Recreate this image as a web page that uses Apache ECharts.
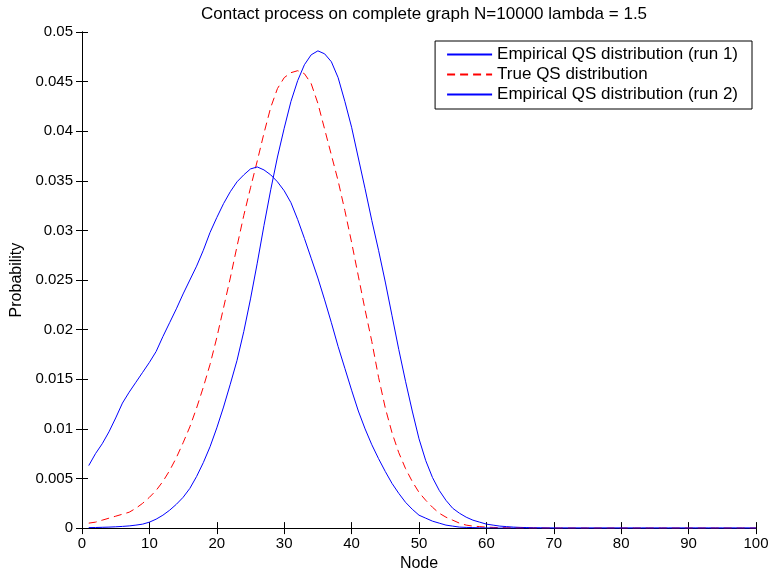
<!DOCTYPE html>
<html><head><meta charset="utf-8">
<script src="https://cdn.jsdelivr.net/npm/echarts@6/dist/echarts.min.js"></script>
<style>html,body{margin:0;padding:0;background:#fff}#c{width:773px;height:577px}</style>
</head><body><div id="c"></div>
<script>
const titleText = 'Contact process on complete graph N=10000 lambda = 1.5';
const seriesNames = ['Empirical QS distribution (run 1)', 'True QS distribution', 'Empirical QS distribution (run 2)'];
const xTicks = [0,10,20,30,40,50,60,70,80,90,100];
const yTicks = [0,0.005,0.01,0.015,0.02,0.025,0.03,0.035,0.04,0.045,0.05];

// values for node 1..100
const run1 = [
0.00005,0.00006,0.00008,0.0001,0.00013,0.00017,0.00022,0.0003,0.0004,0.0006,
0.0009,0.0013,0.0018,0.0024,0.0031,0.0040,0.0052,0.0066,0.0082,0.0101,
0.0122,0.0145,0.0169,0.0198,0.0231,0.0267,0.0305,0.0341,0.0374,0.0403,
0.0430,0.0451,0.0467,0.0477,0.0481,0.0478,0.0470,0.0454,0.0430,0.0404,
0.0373,0.0342,0.0310,0.0280,0.0248,0.0214,0.0180,0.0148,0.0118,0.0090,
0.0068,0.0051,0.0038,0.0028,0.0020,0.0015,0.0011,0.0008,0.0006,0.0004,
0.0003,0.0002,0.00015,0.0001,0.00007,0.00005,0.00003,0.00002,0.00001,0,
0,0,0,0,0,0,0,0,0,0,
0,0,0,0,0,0,0,0,0,0,
0,0,0,0,0,0,0,0,0,0];

const trueQS = [
0.0005,0.0006,0.0008,0.0010,0.0012,0.0014,0.0016,0.0020,0.0025,0.0031,
0.0038,0.0047,0.0058,0.0071,0.0086,0.0102,0.0121,0.0142,0.0165,0.0192,
0.0222,0.0252,0.0284,0.0315,0.0343,0.0370,0.0398,0.0424,0.0443,0.0454,
0.0459,0.0461,0.0458,0.0448,0.0428,0.0402,0.0376,0.0350,0.0320,0.0288,
0.0254,0.0220,0.0188,0.0152,0.0121,0.0096,0.0076,0.0060,0.0047,0.0036,
0.0028,0.0021,0.0015,0.0011,0.0008,0.0005,0.0003,0.0002,0.00015,0.0001,
0.00007,0.00005,0.00003,0.00002,0.00001,0,0,0,0,0,
0,0,0,0,0,0,0,0,0,0,
0,0,0,0,0,0,0,0,0,0,
0,0,0,0,0,0,0,0,0,0];

const run2 = [
0.0063,0.0075,0.0085,0.0097,0.0111,0.0126,0.0137,0.0147,0.0157,0.0167,
0.0178,0.0193,0.0207,0.0221,0.0236,0.0250,0.0264,0.0280,0.0298,0.0313,
0.0327,0.0339,0.0349,0.0356,0.0362,0.0364,0.0361,0.0356,0.0349,0.0340,
0.0328,0.0311,0.0292,0.0272,0.0252,0.0230,0.0207,0.0183,0.0161,0.0139,
0.0118,0.0100,0.0084,0.0070,0.0057,0.0045,0.0035,0.0026,0.0019,0.0013,
0.0010,0.0007,0.0005,0.0003,0.0002,0.0001,0.00007,0.00005,0.00003,0.00002,
0.00001,0,0,0,0,0,0,0,0,0,
0,0,0,0,0,0,0,0,0,0,
0,0,0,0,0,0,0,0,0,0,
0,0,0,0,0,0,0,0,0,0];

const FONT = 'Liberation Sans';
function pairs(arr){ return arr.map((v,i)=>[i+1, v]); }

const chart = echarts.init(document.getElementById('c'), null, {renderer:'canvas'});
const axCommon = {
  axisLine:{show:true, lineStyle:{color:'#000', width:1}},
  axisTick:{show:true, inside:true, length:6, lineStyle:{color:'#000'}},
  splitLine:{show:false}
};
chart.setOption({
  animation:false,
  backgroundColor:'#fff',
  title:{text:titleText, left:196, top:1, textStyle:{fontFamily:FONT, fontSize:17, fontWeight:'normal', color:'#000'}},
  grid:{left:82, right:17, top:32, bottom:37},
  legend:{
    orient:'vertical', right:21, top:41,
    backgroundColor:'#fff', borderColor:'#000', borderWidth:1, borderRadius:0,
    padding:[5,14,6,11], itemGap:3, itemWidth:45, itemHeight:17,
    itemStyle:{opacity:0},
    textStyle:{fontFamily:FONT, fontSize:17, color:'#000', lineHeight:17},
    data:seriesNames
  },
  xAxis:[
    Object.assign({type:'value', min:xTicks[0], max:xTicks[xTicks.length-1], interval:10, position:'bottom',
      name:'Node', nameLocation:'middle', nameGap:25, nameTextStyle:{fontFamily:FONT, fontSize:16, color:'#000'},
      axisLabel:{fontFamily:FONT, fontSize:15, color:'#000', margin:8}}, axCommon),
    Object.assign({type:'value', min:0, max:100, interval:10, position:'top', axisLabel:{show:false}}, axCommon)
  ],
  yAxis:[
    Object.assign({type:'value', min:yTicks[0], max:yTicks[yTicks.length-1], interval:0.005, position:'left',
      name:'Probability', nameLocation:'middle', nameGap:52, nameTextStyle:{fontFamily:FONT, fontSize:16, color:'#000'},
      axisLabel:{fontFamily:FONT, fontSize:15, color:'#000', margin:9, formatter:v=>String(+v.toFixed(3))}}, axCommon),
    Object.assign({type:'value', min:0, max:0.05, interval:0.005, position:'right', axisLabel:{show:false}}, axCommon)
  ],
  series:[
    {name:seriesNames[0], type:'line', data:pairs(run1), symbol:'none', lineStyle:{color:'#0000ff', width:1}, itemStyle:{color:'#0000ff'}},
    {name:seriesNames[1], type:'line', data:pairs(trueQS), symbol:'none', lineStyle:{color:'#ff0000', width:1, type:[8,5]}, itemStyle:{color:'#ff0000'}},
    {name:seriesNames[2], type:'line', data:pairs(run2), symbol:'none', lineStyle:{color:'#0000ff', width:1}, itemStyle:{color:'#0000ff'}}
  ]
});
</script></body></html>
